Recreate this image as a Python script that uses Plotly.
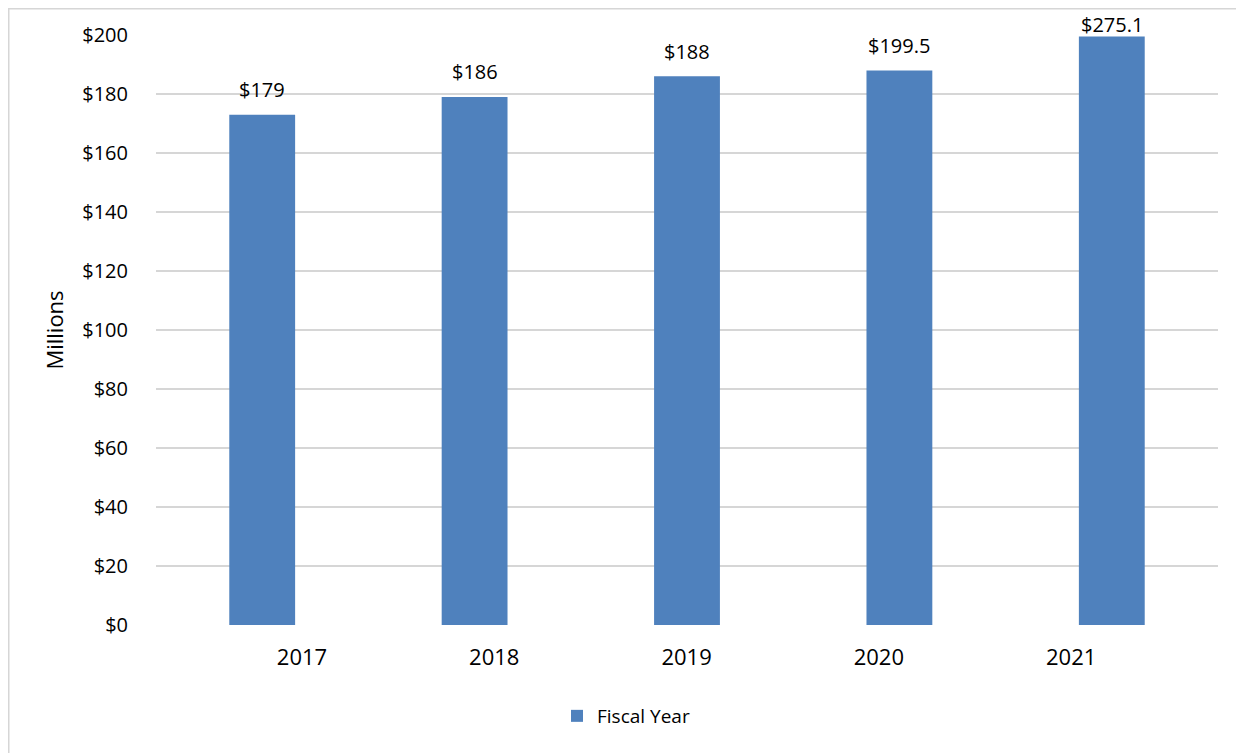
import plotly.graph_objects as go

years = [2017, 2018, 2019, 2020, 2021]
year_labels = ["2017", "2018", "2019", "2020", "2021"]
bar_values = [173, 179, 186, 188, 199.5]
value_labels = ["$179", "$186", "$188", "$199.5", "$275.1"]
series_name = "Fiscal Year"

FONT = "Open Sans"
# the page body adds an 8px offset, so the figure is sized to end at the window edge
OFF = 8
W, H = 1244 - OFF, 753 - OFF
L, R, T, B = 156 - OFF, 26, 35 - OFF, 128
plot_h = H - T - B
ppx = W - L - R
ymax = 200

fig = go.Figure()
fig.add_trace(go.Bar(
    x=years, y=bar_values, name=series_name,
    marker=dict(color="#4f81bd", line=dict(width=0)),
    width=0.31, xaxis="x", yaxis="y",
))
# invisible trace so the label axis is rendered
fig.add_trace(go.Scatter(
    x=years, y=[None] * len(years), xaxis="x2", yaxis="y",
    showlegend=False, hoverinfo="skip", mode="markers",
))

annotations = []
for yr, v, lab in zip(years, bar_values, value_labels):
    top_px = T + (ymax - v) / ymax * plot_h
    shift = 25
    if top_px - shift < 17:
        shift = top_px - 17
    annotations.append(dict(
        x=yr, y=v, xref="x", yref="y", text=lab, showarrow=False,
        yanchor="middle", yshift=shift,
        font=dict(family=FONT, size=20, color="#000000"),
    ))

fig.update_layout(
    width=W, height=H,
    margin=dict(l=L, r=R, t=T, b=B, autoexpand=False),
    paper_bgcolor="white", plot_bgcolor="white",
    font=dict(family=FONT, color="#000000"),
    showlegend=True,
    legend=dict(
        orientation="h", x=(626 - 156) / ppx, y=-(716 - 625) / plot_h,
        xanchor="center", yanchor="middle",
        font=dict(family=FONT, size=19, color="#000000"),
        bgcolor="rgba(0,0,0,0)",
    ),
    xaxis=dict(
        range=[2016.5, 2021.5], showticklabels=False, showgrid=False,
        zeroline=False, showline=False, ticks="", fixedrange=True,
    ),
    xaxis2=dict(
        overlaying="x", anchor="y", side="bottom",
        range=[2017 - 0.759, 2017 - 0.759 + ppx / 192.3],
        tickmode="array", tickvals=years, ticktext=year_labels,
        showgrid=False, zeroline=False, showline=False, ticks="",
        ticklabelstandoff=17,
        tickfont=dict(family=FONT, size=22, color="#000000"),
    ),
    yaxis=dict(
        range=[0, ymax], dtick=20, tick0=0, tickprefix="$",
        showgrid=True, gridcolor="#d6d6d6", gridwidth=1.6,
        zeroline=False, showline=False, ticks="",
        ticklabelstandoff=27,
        tickfont=dict(family=FONT, size=20, color="#000000"),
        title=dict(text="Millions", standoff=12,
                   font=dict(family=FONT, size=22, color="#000000")),
    ),
    bargap=0.69,
    annotations=annotations,
    shapes=[dict(
        type="rect", xref="paper", yref="paper",
        x0=(0.75 - L) / ppx, x1=(W + 10 - L) / ppx,
        y0=-(H + 10 - (H - B)) / plot_h, y1=1 + (T - 0.75) / plot_h,
        line=dict(color="#d6d6d6", width=1.5), fillcolor="rgba(0,0,0,0)",
        layer="below",
    )],
)

fig.write_html("out.html")
